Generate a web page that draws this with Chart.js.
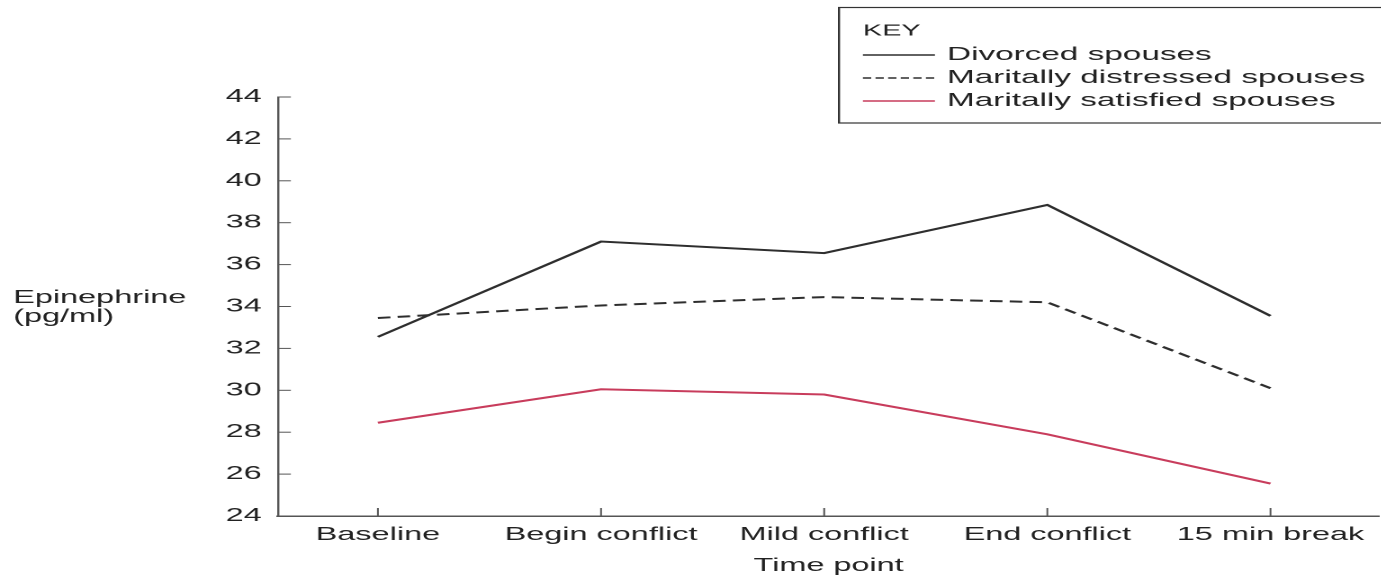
<!DOCTYPE html>
<html>
<head>
<meta charset="utf-8">
<script src="https://cdn.jsdelivr.net/npm/chart.js@4"></script>
<style>
  html, body { margin: 0; padding: 0; background: #fff; overflow: hidden; }
  /* the original figure is stretched sideways, so we draw narrow and widen it */
  #wrap { position: absolute; left: 0; top: 0; width: 767.2px; height: 578px; transform: scaleX(1.8); transform-origin: 0 0; }
</style>
</head>
<body>
<div id="wrap"><canvas id="epi-chart"></canvas></div>
<script>
// Chart data
const categories = ['Baseline', 'Begin conflict', 'Mild conflict', 'End conflict', '15 min break'];
const divorced = [32.55, 37.1, 36.55, 38.85, 33.55];
const distressed = [33.45, 34.05, 34.45, 34.2, 30.1];
const satisfied = [28.45, 30.05, 29.8, 27.9, 25.55];
const yTicks = [24, 26, 28, 30, 32, 34, 36, 38, 40, 42, 44];
const seriesNames = ['Divorced spouses', 'Maritally distressed spouses', 'Maritally satisfied spouses'];

const FONT = "'Liberation Sans', Arial, Helvetica, sans-serif";
const TEXT = '#222';
const AXIS = '#555';

function toPoints(values) {
    return values.map((v, i) => ({ x: i, y: v }));
}

// inward tick marks, y label and the KEY box
const extras = {
    id: 'extras',
    afterDraw(chart) {
        const ctx = chart.ctx;
        const area = chart.chartArea;
        const xs = chart.scales.x;
        const ys = chart.scales.y;
        ctx.save();
        ctx.strokeStyle = AXIS;
        ctx.lineWidth = 1;
        yTicks.forEach(t => {
            const py = ys.getPixelForValue(t);
            ctx.beginPath();
            ctx.moveTo(area.left, py);
            ctx.lineTo(area.left + 7.2, py);
            ctx.stroke();
        });
        categories.forEach((c, i) => {
            const px = xs.getPixelForValue(i);
            ctx.beginPath();
            ctx.moveTo(px, area.bottom);
            ctx.lineTo(px, area.bottom - 8);
            ctx.stroke();
        });

        // y axis title
        ctx.fillStyle = TEXT;
        ctx.font = '18px ' + FONT;
        ctx.textAlign = 'left';
        ctx.textBaseline = 'alphabetic';
        ctx.fillText('Epinephrine', 7.4, 303);
        ctx.fillText('(pg/ml)', 7.4, 322);

        // KEY box
        const bx = 466.1, by = 7.5, bh = 115.5;
        ctx.fillStyle = '#fff';
        ctx.fillRect(bx, by, 400, bh);
        ctx.strokeStyle = '#333';
        ctx.lineWidth = 1.2;
        ctx.strokeRect(bx, by, 400, bh);
        ctx.fillStyle = TEXT;
        ctx.font = '16px ' + FONT;
        ctx.textBaseline = 'middle';
        ctx.fillText('KEY', 479.4, 31);
        const rows = [55, 78, 101];
        ctx.font = '18.5px ' + FONT;
        chart.data.datasets.forEach((ds, i) => {
            ctx.save();
            ctx.strokeStyle = ds.borderColor;
            ctx.lineWidth = 1.6;
            ctx.setLineDash(ds.borderDash && ds.borderDash.length ? [4.6, 2.4] : []);
            ctx.beginPath();
            ctx.moveTo(479.4, rows[i]);
            ctx.lineTo(519.4, rows[i]);
            ctx.stroke();
            ctx.restore();
            ctx.fillText(ds.label, 526.1, rows[i]);
        });
        ctx.restore();
    }
};

const ctx = document.getElementById('epi-chart');

new Chart(ctx, {
    type: 'line',
    data: {
        datasets: [{
            label: seriesNames[0],
            data: toPoints(divorced),
            borderColor: '#2e2e2e',
            borderWidth: 2
        }, {
            label: seriesNames[1],
            data: toPoints(distressed),
            borderColor: '#2e2e2e',
            borderWidth: 2,
            borderDash: [7, 4]
        }, {
            label: seriesNames[2],
            data: toPoints(satisfied),
            borderColor: '#c83c5c',
            borderWidth: 2
        }]
    },
    options: {
        responsive: true,
        maintainAspectRatio: false,
        animation: false,
        devicePixelRatio: 2,
        elements: {
            point: { radius: 0, hoverRadius: 0 },
            line: { tension: 0 }
        },
        layout: { padding: { top: 97, right: 0, left: 0, bottom: 0 } },
        scales: {
            x: {
                type: 'linear',
                min: -0.448,
                max: 4.487,
                afterBuildTicks: function(scale) {
                    scale.ticks = categories.map((c, i) => ({ value: i }));
                },
                afterFit: function(scale) { scale.height = 62; },
                ticks: {
                    callback: function(value) { return categories[value]; },
                    font: { family: FONT, size: 18 },
                    color: TEXT,
                    padding: 8,
                    maxRotation: 0,
                    autoSkip: false
                },
                grid: { drawOnChartArea: false, drawTicks: false },
                border: { color: AXIS, width: 1.5 },
                title: {
                    display: true,
                    text: 'Time point',
                    font: { family: FONT, size: 18 },
                    color: TEXT,
                    padding: { top: 0, bottom: 1 }
                }
            },
            y: {
                min: 24,
                max: 44,
                afterBuildTicks: function(scale) {
                    scale.ticks = yTicks.map(v => ({ value: v }));
                },
                afterFit: function(scale) { scale.width = 154.4; },
                ticks: {
                    font: { family: FONT, size: 18 },
                    color: TEXT,
                    padding: 9
                },
                grid: { drawOnChartArea: false, drawTicks: false },
                border: { color: AXIS, width: 1.2 }
            }
        },
        plugins: {
            legend: { display: false },
            tooltip: { enabled: false }
        }
    },
    plugins: [extras]
});
</script>
</body>
</html>
